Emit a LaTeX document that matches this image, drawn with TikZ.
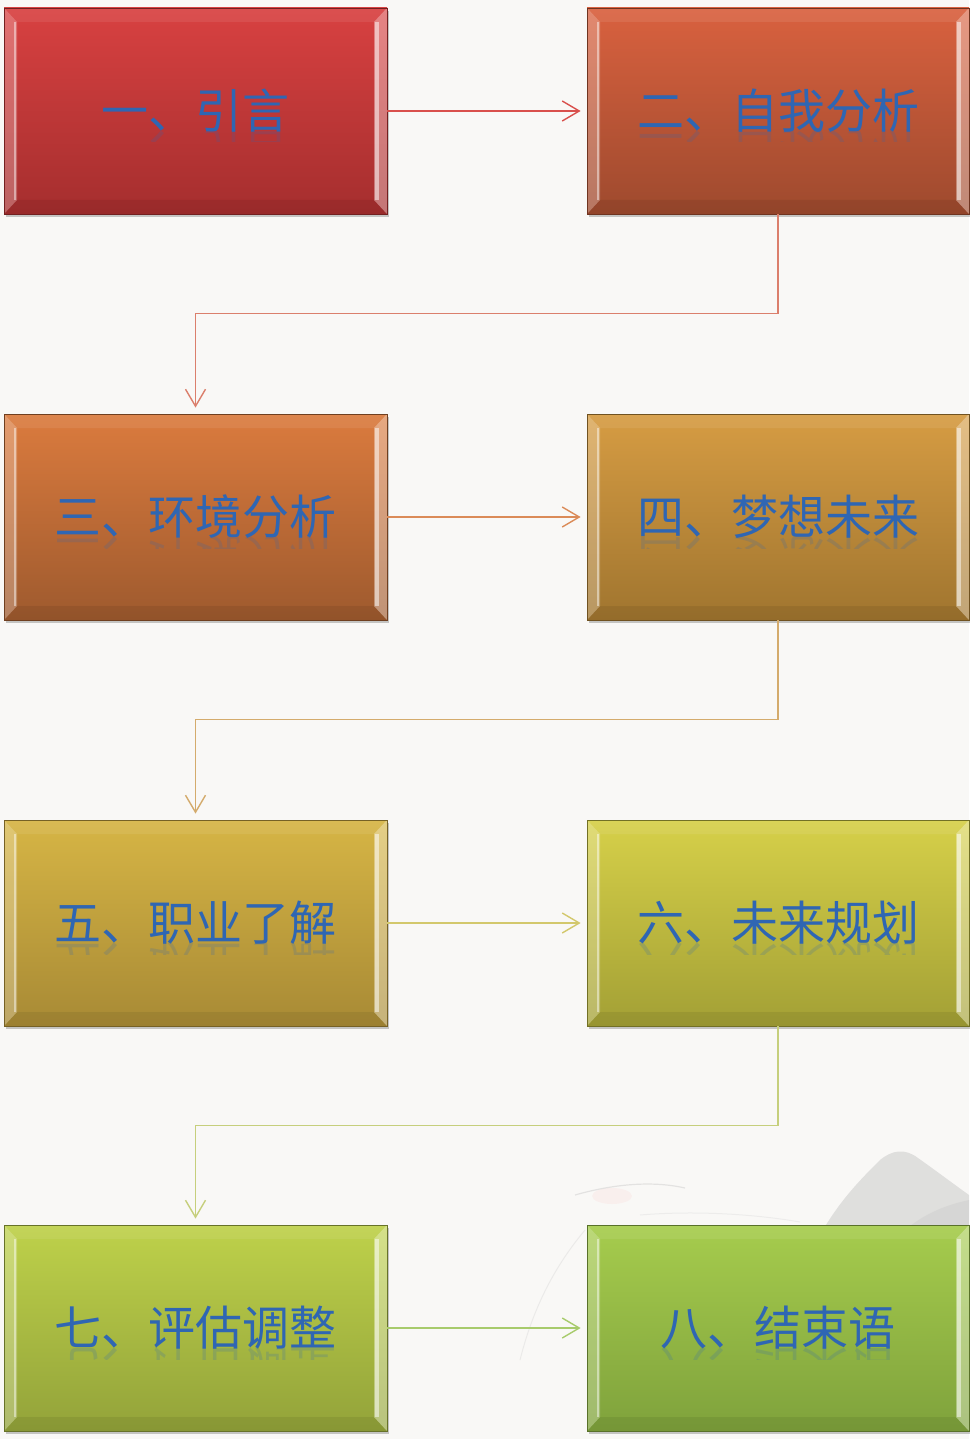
\documentclass[tikz,border=0pt]{standalone}
\usepackage{fontspec}
\newfontfamily\cnfont{Noto Sans CJK SC}
\usetikzlibrary{arrows.meta,shadows,calc}
\definecolor{bgc}{HTML}{F9F8F6}
\definecolor{txtblue}{HTML}{2F66B3}
\definecolor{aT}{HTML}{D84141}\definecolor{aB}{HTML}{A52E2E}
\definecolor{bT}{HTML}{D9613F}\definecolor{bB}{HTML}{9E4A2E}
\definecolor{cT}{HTML}{DB7B3E}\definecolor{cB}{HTML}{9E5A2E}
\definecolor{dT}{HTML}{D69C43}\definecolor{dB}{HTML}{A0752F}
\definecolor{eT}{HTML}{D6B545}\definecolor{eB}{HTML}{A88A35}
\definecolor{fT}{HTML}{D6D049}\definecolor{fB}{HTML}{A3A035}
\definecolor{gT}{HTML}{BED14A}\definecolor{gB}{HTML}{93A33A}
\definecolor{hT}{HTML}{A6CC4D}\definecolor{hB}{HTML}{7FA23C}
\definecolor{k1}{HTML}{D9504C}
\definecolor{k2}{HTML}{DB7F6C}
\definecolor{k3}{HTML}{DB8B58}
\definecolor{k4}{HTML}{D4AB6C}
\definecolor{k5}{HTML}{D3C86C}
\definecolor{k6}{HTML}{C6CF7C}
\definecolor{k7}{HTML}{A8CB6C}
\tikzset{
  bevels/.style={path picture={
    \coordinate (nw) at (path picture bounding box.north west);
    \coordinate (ne) at (path picture bounding box.north east);
    \coordinate (sw) at (path picture bounding box.south west);
    \coordinate (se) at (path picture bounding box.south east);
    \coordinate (inw) at ($(nw)+(13pt,-14pt)$);
    \coordinate (ine) at ($(ne)+(-13pt,-14pt)$);
    \coordinate (isw) at ($(sw)+(13pt,14pt)$);
    \coordinate (ise) at ($(se)+(-13pt,14pt)$);
    \fill[white,opacity=0.08] (nw) -- (ne) -- (ine) -- (inw) -- cycle;
    \fill[black,opacity=0.07] (sw) -- (se) -- (ise) -- (isw) -- cycle;
    \fill[white,opacity=0.25] (nw) -- (inw) -- (isw) -- (sw) -- cycle;
    \fill[white,opacity=0.35] (ne) -- (ine) -- (ise) -- (se) -- cycle;
    \draw[white,opacity=0.45,line width=2.5pt] ($(inw)+(-2pt,0)$) -- ($(isw)+(-2pt,0)$);
    \draw[white,opacity=0.5,line width=4pt] ($(ine)+(2.5pt,0)$) -- ($(ise)+(2.5pt,0)$);
  }},
  stepbox/.style n args={2}{rectangle, minimum width=382pt, minimum height=206pt,
    inner sep=0pt, top color=#1, bottom color=#2, draw=#2!70!black, line width=0.8pt,
    drop shadow={shadow xshift=2pt,shadow yshift=-3pt,opacity=0.3,fill=black!70},
    bevels, text=txtblue, font=\cnfont\fontsize{47pt}{50pt}\selectfont},
  refl/.style={text=txtblue, opacity=0.2, font=\cnfont\fontsize{47pt}{50pt}\selectfont, inner sep=0pt},
  conn/.style={draw=#1, line width=1.4pt, -{Straight Barb[length=17pt,width=20pt,line width=1.4pt]}, shorten >=6pt},
}
\begin{document}
\begin{tikzpicture}[x=1pt,y=1pt]
\fill[bgc] (0,0) rectangle (969,-1439);
\useasboundingbox (0,0) rectangle (969,-1439);
% faint ink-painting background
\fill[black!35,opacity=0.3] (820,-1235) .. controls (840,-1200) and (860,-1180) .. (880,-1160)
  .. controls (892,-1150) and (905,-1148) .. (918,-1158) .. controls (935,-1170) and (955,-1185) .. (969,-1195)
  -- (969,-1235) -- cycle;
\fill[black!25,opacity=0.25] (900,-1235) .. controls (920,-1215) and (945,-1205) .. (969,-1200) -- (969,-1235) -- cycle;
\fill[red!30,opacity=0.12] (612,-1196) ellipse (20pt and 8pt);
\draw[black!30,opacity=0.3,line width=1.2pt] (575,-1195) .. controls (610,-1185) and (650,-1180) .. (685,-1188);
\draw[black!20,opacity=0.3,line width=1pt] (585,-1230) .. controls (560,-1260) and (535,-1300) .. (520,-1360);
\draw[black!20,opacity=0.25,line width=1pt] (640,-1215) .. controls (700,-1210) and (760,-1215) .. (800,-1222);

\node[stepbox={aT}{aB}, minimum width=383pt] (b1) at (195.5,-111) {\raisebox{4pt}{一、引言}};
\node[stepbox={bT}{bB}] (b2) at (778,-111) {\raisebox{4pt}{二、自我分析}};
\node[stepbox={cT}{cB}, minimum width=383pt] (b3) at (195.5,-517) {\raisebox{4pt}{三、环境分析}};
\node[stepbox={dT}{dB}] (b4) at (778,-517) {\raisebox{4pt}{四、梦想未来}};
\node[stepbox={eT}{eB}, minimum width=383pt] (b5) at (195.5,-923) {\raisebox{4pt}{五、职业了解}};
\node[stepbox={fT}{fB}] (b6) at (778,-923) {\raisebox{4pt}{六、未来规划}};
\node[stepbox={gT}{gB}, minimum width=383pt] (b7) at (195.5,-1328) {\raisebox{4pt}{七、评估调整}};
\node[stepbox={hT}{hB}] (b8) at (778,-1328) {\raisebox{4pt}{八、结束语}};

\foreach \n/\t in {b1/一、引言, b2/二、自我分析, b3/三、环境分析, b4/四、梦想未来,
                   b5/五、职业了解, b6/六、未来规划, b7/七、评估调整, b8/八、结束语}{
  \begin{scope}
    \clip ($(\n.center)+(-180pt,-18pt)$) rectangle ($(\n.center)+(180pt,-31pt)$);
    \node[refl, yscale=-1] at ($(\n.center)+(0,-40pt)$) {\t};
  \end{scope}
}

\draw[conn=k1] (b1.east) -- (b2.west);
\draw[conn=k2] (b2.south) -- ++(0,-99) -| (b3.north);
\draw[conn=k3] (b3.east) -- (b4.west);
\draw[conn=k4] (b4.south) -- ++(0,-99) -| (b5.north);
\draw[conn=k5] (b5.east) -- (b6.west);
\draw[conn=k6] (b6.south) -- ++(0,-99) -| (b7.north);
\draw[conn=k7] (b7.east) -- (b8.west);
\end{tikzpicture}
\end{document}
